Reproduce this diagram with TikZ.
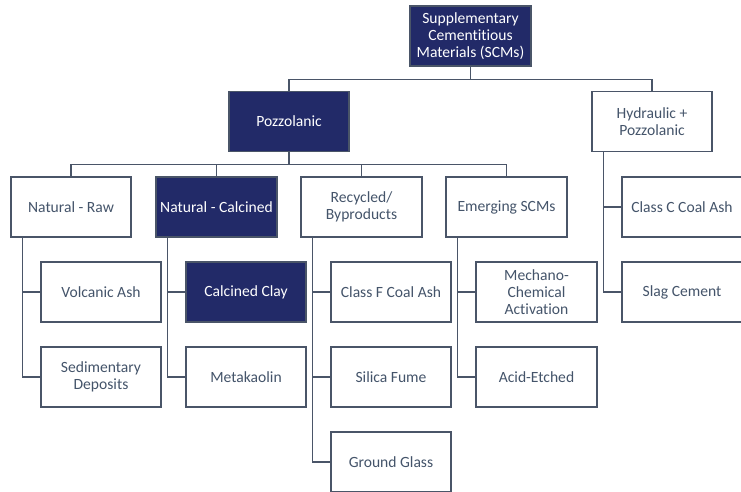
\documentclass[tikz,border=0pt]{standalone}
\usepackage{fontspec}
\setmainfont{Carlito}[Ligatures=NoCommon]
\definecolor{scmline}{HTML}{4A5568}
\definecolor{scmtext}{HTML}{44546A}
\definecolor{scmnavy}{HTML}{222A68}
\tikzset{
  box/.style={draw=scmline, line width=1.2pt, fill=white, text=scmtext,
    minimum width=120pt, minimum height=60pt, inner sep=0pt, align=center,
    font=\fontsize{15.6}{17}\selectfont},
  darkbox/.style={box, fill=scmnavy, text=white},
  link/.style={draw=scmline, line width=1.2pt}
}
\begin{document}
\begin{tikzpicture}[x=1pt,y=-1pt]
\useasboundingbox (0,0) rectangle (741,491);
\clip (0,0) rectangle (741,491);
\node[darkbox, minimum width=121pt] (scm) at (470.5,36) {Supplementary\\Cementitious\\Materials (SCMs)};
\node[darkbox] (pozz) at (289,121.5) {Pozzolanic};
\node[box] (hyd) at (652,121.5) {Hydraulic +\\Pozzolanic};
\node[box] (raw) at (71,207) {Natural - Raw};
\node[darkbox, minimum width=121pt] (calc) at (216.5,207) {Natural - Calcined};
\node[box, minimum width=121pt] (recy) at (361.5,207) {Recycled/\\Byproducts};
\node[box, minimum width=121pt] (emer) at (506.5,207) {Emerging SCMs};
\node[box] (volc) at (101,292) {Volcanic Ash};
\node[box] (sed) at (101,377) {Sedimentary\\Deposits};
\node[darkbox] (clay) at (246,292) {Calcined Clay};
\node[box] (meta) at (246,377) {Metakaolin};
\node[box] (classf) at (391,292) {Class F Coal Ash};
\node[box] (silica) at (391,377) {Silica Fume};
\node[box] (glass) at (391,462) {Ground Glass};
\node[box, minimum width=121pt] (mech) at (536.5,292) {Mechano-\\Chemical\\Activation};
\node[box, minimum width=121pt] (acid) at (536.5,377) {Acid-Etched};
\node[box] (classc) at (682,207) {Class C Coal Ash};
\node[box] (slag) at (682,292) {Slag Cement};
\draw[link] (scm.south) -- ++(0,13) -| (pozz.north);
\draw[link] (scm.south) -- ++(0,13) -| (hyd.north);
\foreach \n in {raw,calc,recy,emer}
  \draw[link] (pozz.south) -- ++(0,12) -| (\n.north);
\foreach \p/\c in {raw/volc,raw/sed,calc/clay,calc/meta,recy/classf,recy/silica,recy/glass,emer/mech,emer/acid,hyd/classc,hyd/slag}
  \draw[link] ([xshift=12pt]\p.south west) |- (\c.west);
\end{tikzpicture}
\end{document}
